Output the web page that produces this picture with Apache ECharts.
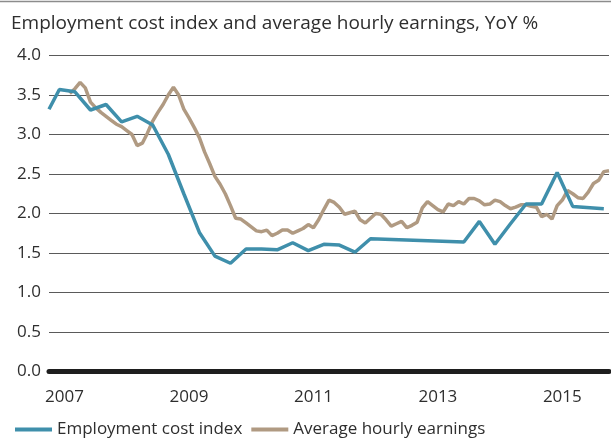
<!DOCTYPE html>
<html lang="en">
<head>
    <meta charset="UTF-8">
    <script type="text/javascript" src="https://cdn.jsdelivr.net/npm/echarts@6/dist/echarts.min.js"></script>
    <title>ECI vs AHE</title>
    <style type="text/css">
        html, body { margin: 0; padding: 0; background: #fff; }
        #chart { width: 611px; height: 441px; }
    </style>
</head>
<body>
    <div id="chart"></div>
    <script type="text/javascript">
        // monthly axis, Oct 2006 .. Oct 2015
        let months = []
        for (let y = 2006; y <= 2015; y++) {
            for (let m = 1; m <= 12; m++) {
                if (y == 2006 && m < 10) continue
                if (y == 2015 && m > 10) break
                months.push(y + "-" + (m < 10 ? "0" + m : m))
            }
        }
        let yearLabels = ["2007", "2009", "2011", "2013", "2015"]

        // employment cost index, quarterly [month, YoY %]
        let eci = [
            ["2006-10", 3.32], ["2006-12", 3.57], ["2007-03", 3.54], ["2007-06", 3.31],
            ["2007-09", 3.38], ["2007-12", 3.16], ["2008-03", 3.23], ["2008-06", 3.12],
            ["2008-09", 2.75], ["2008-12", 2.25], ["2009-03", 1.76], ["2009-06", 1.46],
            ["2009-09", 1.37], ["2009-12", 1.55], ["2010-03", 1.55], ["2010-06", 1.54],
            ["2010-09", 1.63], ["2010-12", 1.53], ["2011-03", 1.61], ["2011-06", 1.60],
            ["2011-09", 1.51], ["2011-12", 1.68], ["2013-06", 1.64], ["2013-09", 1.90],
            ["2013-12", 1.61], ["2014-03", 1.87], ["2014-06", 2.12], ["2014-09", 2.12],
            ["2014-12", 2.52], ["2015-03", 2.09], ["2015-09", 2.06]
        ]

        // average hourly earnings, monthly YoY %, aligned with months
        let ahe = [
            null, null, null, null, 3.52, 3.58, 3.66, 3.59, 3.41, 3.34, 3.28, 3.23,
            3.18, 3.13, 3.10, 3.05, 3.00, 2.86, 2.89, 3.02, 3.17, 3.28, 3.38, 3.50,
            3.60, 3.50, 3.32, 3.21, 3.09, 2.96, 2.78, 2.63, 2.47, 2.37, 2.25, 2.10,
            1.94, 1.93, 1.88, 1.83, 1.78, 1.77, 1.79, 1.72, 1.75, 1.79, 1.79, 1.75,
            1.78, 1.81, 1.86, 1.82, 1.92, 2.05, 2.17, 2.14, 2.08, 1.99, 2.01, 2.03,
            1.92, 1.88, 1.94, 2.00, 1.99, 1.92, 1.84, 1.87, 1.90, 1.82, 1.85, 1.89,
            2.07, 2.15, 2.10, 2.05, 2.02, 2.12, 2.10, 2.15, 2.12, 2.19, 2.19, 2.16,
            2.11, 2.12, 2.17, 2.15, 2.10, 2.06, 2.08, 2.11, 2.11, 2.09, 2.08, 1.96,
            1.99, 1.93, 2.10, 2.17, 2.29, 2.25, 2.20, 2.19, 2.27, 2.38, 2.42, 2.53,
            2.54
        ]

        let font = "Open Sans"
        let textColor = "#2e2e2e"

        var chartDom = document.getElementById('chart');
        var myChart = echarts.init(chartDom);
        var option;

        option = {
            animation: false,
            title: {
                text: "Employment cost index and average hourly earnings, YoY %",
                left: 6,
                top: 9,
                textStyle: { fontFamily: font, fontSize: 19, fontWeight: 'normal', color: textColor }
            },
            graphic: [{
                type: 'line',
                shape: { x1: 0, y1: 1.5, x2: 611, y2: 1.5 },
                style: { stroke: '#8c8c8c', lineWidth: 1.5 }
            }],
            legend: {
                left: 10,
                top: 416,
                itemWidth: 37,
                itemHeight: 4,
                itemGap: 9,
                icon: 'rect',
                textStyle: { fontFamily: font, fontSize: 17, color: textColor },
                data: ["Employment cost index", "Average hourly earnings"]
            },
            grid: {
                left: 49,
                right: 2,
                top: 55.5,
                bottom: 69.5,
                containLabel: false,
                outerBoundsMode: 'none'
            },
            xAxis: {
                type: 'category',
                data: months,
                boundaryGap: false,
                axisLine: { show: true, onZero: true, lineStyle: { color: '#1e1e1e', width: 5 } },
                axisTick: { show: false },
                axisLabel: {
                    interval: function (index, value) {
                        return value.slice(5) == "01" && yearLabels.indexOf(value.slice(0, 4)) >= 0
                    },
                    formatter: function (value) { return value.slice(0, 4) },
                    margin: 17,
                    fontFamily: font,
                    fontSize: 17,
                    color: textColor
                },
                splitLine: { show: false }
            },
            yAxis: {
                type: 'value',
                min: 0,
                max: 4,
                interval: 0.5,
                axisLine: { show: false },
                axisTick: { show: false },
                axisLabel: {
                    formatter: function (v) { return v.toFixed(1) },
                    margin: 8,
                    fontFamily: font,
                    fontSize: 17,
                    color: textColor
                },
                splitLine: { lineStyle: { color: '#5a5a5a', width: 1 } }
            },
            series: [
                {
                    name: "Employment cost index",
                    type: 'line',
                    data: eci,
                    showSymbol: false,
                    symbol: 'none',
                    lineStyle: { color: '#3f8fab', width: 3.5 },
                    itemStyle: { color: '#3f8fab' },
                    z: 3
                },
                {
                    name: "Average hourly earnings",
                    type: 'line',
                    data: ahe,
                    showSymbol: false,
                    symbol: 'none',
                    lineStyle: { color: '#b09a82', width: 3.5 },
                    itemStyle: { color: '#b09a82' },
                    z: 2
                }
            ]
        };

        option && myChart.setOption(option);
    </script>
</body>
</html>
